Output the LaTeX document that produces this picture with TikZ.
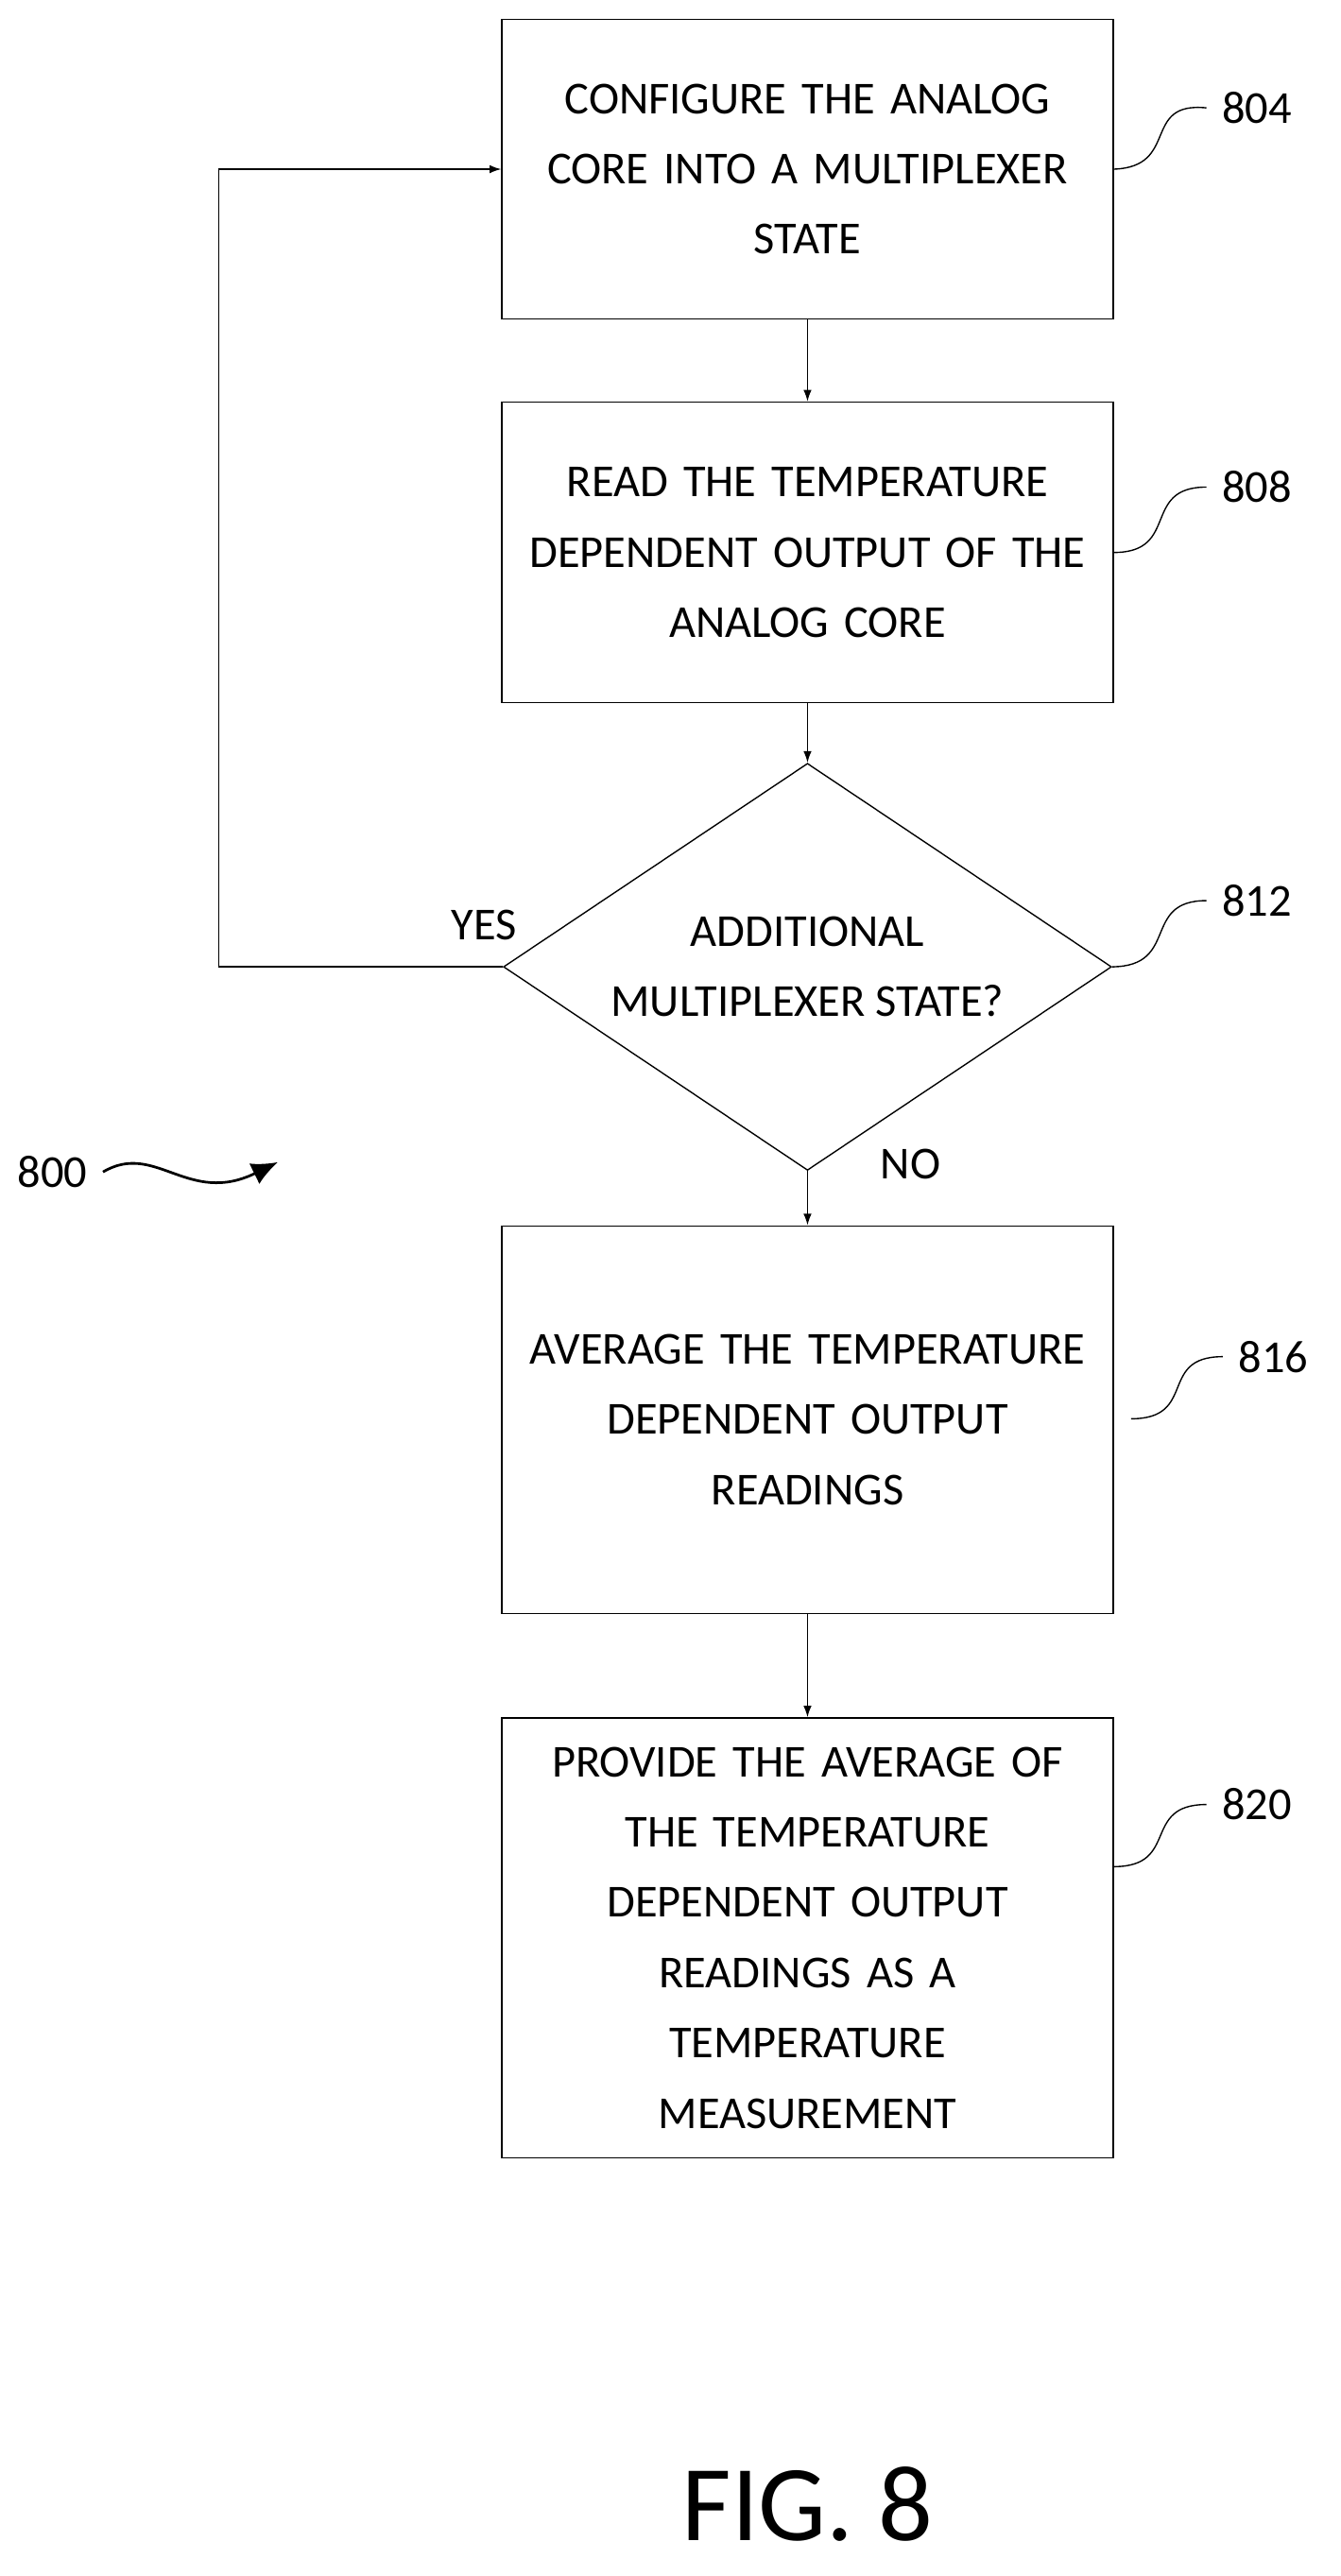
\documentclass[tikz,border=0pt]{standalone}
\usepackage{fontspec}
\setmainfont{Carlito}
\usetikzlibrary{shapes.geometric,positioning,arrows.meta}

\begin{document}
\begin{tikzpicture}[x=1pt, y=-1pt, line width=.8pt,
  box/.style={draw, rectangle, minimum width=374pt, text width=360pt, align=center, inner sep=0pt},
  cond/.style={draw, diamond, minimum width=372pt, minimum height=249pt, aspect=1.49, align=center, inner sep=0pt},
  flow/.style={-{Latex[length=7pt,width=5pt]}},
  tag/.style={anchor=west}]
	\useasboundingbox (0,0) rectangle (820,1576);
	\fontsize{28}{43}\selectfont

	% Steps
	\node[box, minimum height=183pt] (configure) at (494,103.5) {CONFIGURE THE ANALOG\\CORE INTO A MULTIPLEXER\\STATE};
	\node[box, minimum height=184pt] (read) at (494,338) {READ THE TEMPERATURE\\DEPENDENT OUTPUT OF THE\\ANALOG CORE};
	\node[cond] (more) at (494,591.5) {ADDITIONAL\\MULTIPLEXER STATE?};
	\node[box, minimum height=237pt] (average) at (494,868.5) {AVERAGE THE TEMPERATURE\\DEPENDENT OUTPUT\\READINGS};
	\node[box, minimum height=269pt] (provide) at (494,1185.5) {PROVIDE THE AVERAGE OF\\THE TEMPERATURE\\DEPENDENT OUTPUT\\READINGS AS A\\TEMPERATURE\\MEASUREMENT};

	% Connectors
	\draw[flow] (configure) -- (read);
	\draw[flow] (read) -- (more);
	\draw[flow] (more) -- (average);
	\draw[flow] (average) -- (provide);
	\coordinate (loopbot) at (134,591.5);
	\coordinate (looptop) at (134,103.5);
	\draw[flow] (more.west) -- (loopbot) -- (looptop) -- (configure.west);
	\node (yes) at (296,566) {YES};
	\node (no) at (557,712) {NO};

	% Reference numerals
	\node[tag] (n804) at (738,66) {804};
	\node[tag] (n808) at (738,298) {808};
	\node[tag] (n812) at (738,551) {812};
	\node[tag] (n816) at (748,830) {816};
	\node[tag] (n820) at (738,1104) {820};
	\draw (configure.east) .. controls (722,102) and (698,62) .. (n804.west);
	\draw (read.east) .. controls (722,338) and (698,298) .. (n808.west);
	\draw (more.east) .. controls (722,591) and (698,551) .. (n812.west);
	\draw (692,868) .. controls (733,868) and (708,830) .. (n816.west);
	\draw (provide.east |- 0,1142) .. controls (722,1142) and (698,1104) .. (n820.west);

	\node (n800) at (32,717) {800};
	\draw[-{Latex[length=16pt,width=14pt]}, line width=1.6pt] (n800.east) .. controls (95,698) and (115,738) .. (170,711);

	\node[font=\fontsize{66}{70}\selectfont] (fig) at (494,1532) {FIG. 8};
\end{tikzpicture}
\end{document}
